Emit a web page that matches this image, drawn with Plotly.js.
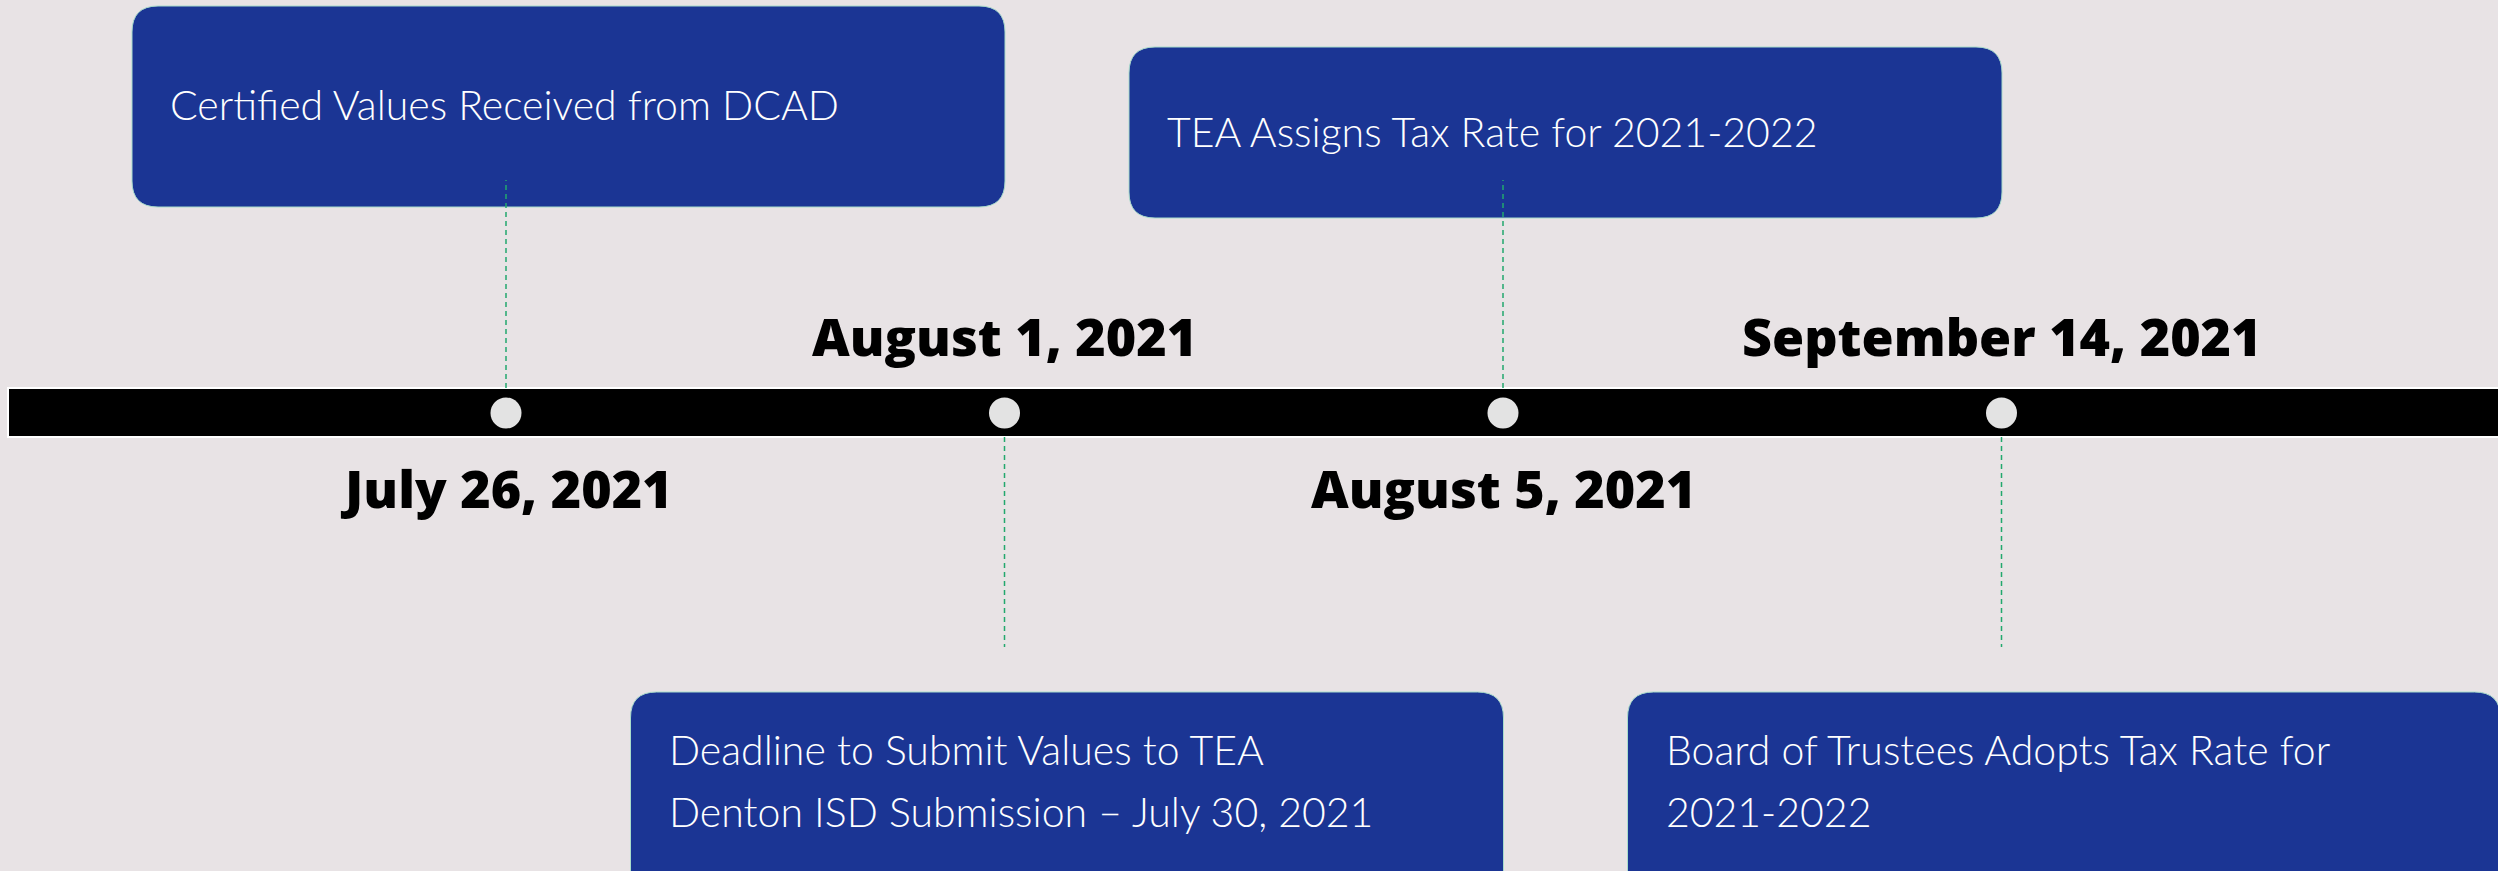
<!DOCTYPE html>
<html>
<head>
<meta charset="utf-8">
<script src="https://cdn.plot.ly/plotly-3.0.1.min.js"></script>
<style>html,body{margin:0;padding:0;background:#e8e3e5;}#chart{width:2498px;height:871px;}</style>
</head>
<body>
<div id="chart"></div>
<script>
// ---- data ----
const dates = ["July 26, 2021", "August 1, 2021", "August 5, 2021", "September 14, 2021"];
const events = [
  "Certified Values Received from DCAD",
  "Deadline to Submit Values to TEA\nDenton ISD Submission \u2013 July 30, 2021",
  "TEA Assigns Tax Rate for 2021-2022",
  "Board of Trustees Adopts Tax Rate for\n2021-2022"
];
const boxSide = ["above", "below", "above", "below"];

// ---- layout helpers ----
const W = 2498, H = 871;
const FIRST_PX = 506, STEP_PX = 498.5;          // px position of first event and spacing
const xr = [-FIRST_PX / STEP_PX, (W - FIRST_PX) / STEP_PX];
const LINE_PX = 413;                              // vertical px of timeline
const yr = [LINE_PX - H, LINE_PX];                // y units == px, timeline at 0
const pxu = W / (xr[1] - xr[0]);                  // px per x unit
const yOf = px => LINE_PX - px;                   // page px -> y value

function boxFor(i) {
  if (boxSide[i] === "above") {
    return i === 0 ? {top: 6, bottom: 207, textC: [104]} : {top: 47, bottom: 218, textC: [131]};
  }
  return {top: 692, bottom: 900, textC: [749, 811]};
}

function roundRect(xl, xrr, yt, yb, r) {
  const rx = r / pxu, ry = r;
  return `M ${xl + rx},${yt} L ${xrr - rx},${yt} Q ${xrr},${yt} ${xrr},${yt - ry} ` +
         `L ${xrr},${yb + ry} Q ${xrr},${yb} ${xrr - rx},${yb} ` +
         `L ${xl + rx},${yb} Q ${xl},${yb} ${xl},${yb + ry} ` +
         `L ${xl},${yt - ry} Q ${xl},${yt} ${xl + rx},${yt} Z`;
}

const idx = dates.map((d, i) => i);
const shapes = [];
const annotations = [];

// timeline bar
shapes.push({type: "rect", layer: "below", xref: "paper", yref: "y",
  x0: 8 / W, x1: 1.01, y0: yOf(437), y1: yOf(388),
  fillcolor: "#000000", line: {color: "#ffffff", width: 2}});

idx.forEach(i => {
  const b = boxFor(i);
  const xl = i - 374 / pxu, xrr = i + 499 / pxu;
  shapes.push({type: "path", layer: "below", xref: "x", yref: "y",
    path: roundRect(xl, xrr, yOf(b.top), yOf(b.bottom), 26),
    fillcolor: "#1b3594", line: {color: "#a9dccb", width: 1}});
  const up = boxSide[i] === "above";
  shapes.push({type: "line", layer: "above", xref: "x", yref: "y",
    x0: i, x1: i, y0: up ? yOf(388) : yOf(437), y1: up ? yOf(180) : yOf(647),
    line: {color: "#22a86e", width: 1.5, dash: "5px,4px"}});
  events[i].split("\n").forEach((t, k) => {
    annotations.push({xref: "x", yref: "y", x: i, xshift: -338, xanchor: "left",
      y: yOf(b.textC[k]), yanchor: "middle", text: t, showarrow: false,
      font: {family: "Lato, 'Open Sans', sans-serif", size: 41, color: "#ffffff", weight: 300}});
  });
  annotations.push({xref: "x", yref: "y", x: i, xanchor: "center",
    y: up ? yOf(487) : yOf(335), yanchor: "middle", text: dates[i], showarrow: false,
    font: {family: "'Open Sans', Lato, sans-serif", size: 52, color: "#000000", weight: 800}});
});

const trace = {
  type: "scatter", mode: "markers", x: idx, y: idx.map(() => 0),
  marker: {size: 31, color: "#e3e3e3", line: {width: 0}},
  hoverinfo: "skip", showlegend: false, cliponaxis: false
};

const layout = {
  width: W, height: H, margin: {l: 0, r: 0, t: 0, b: 0},
  paper_bgcolor: "#e8e3e5", plot_bgcolor: "#e8e3e5",
  xaxis: {range: xr, visible: false, fixedrange: true},
  yaxis: {range: yr, visible: false, fixedrange: true},
  shapes: shapes, annotations: annotations, showlegend: false
};

Plotly.newPlot("chart", [trace], layout, {displayModeBar: false, staticPlot: true});
</script>
</body>
</html>
